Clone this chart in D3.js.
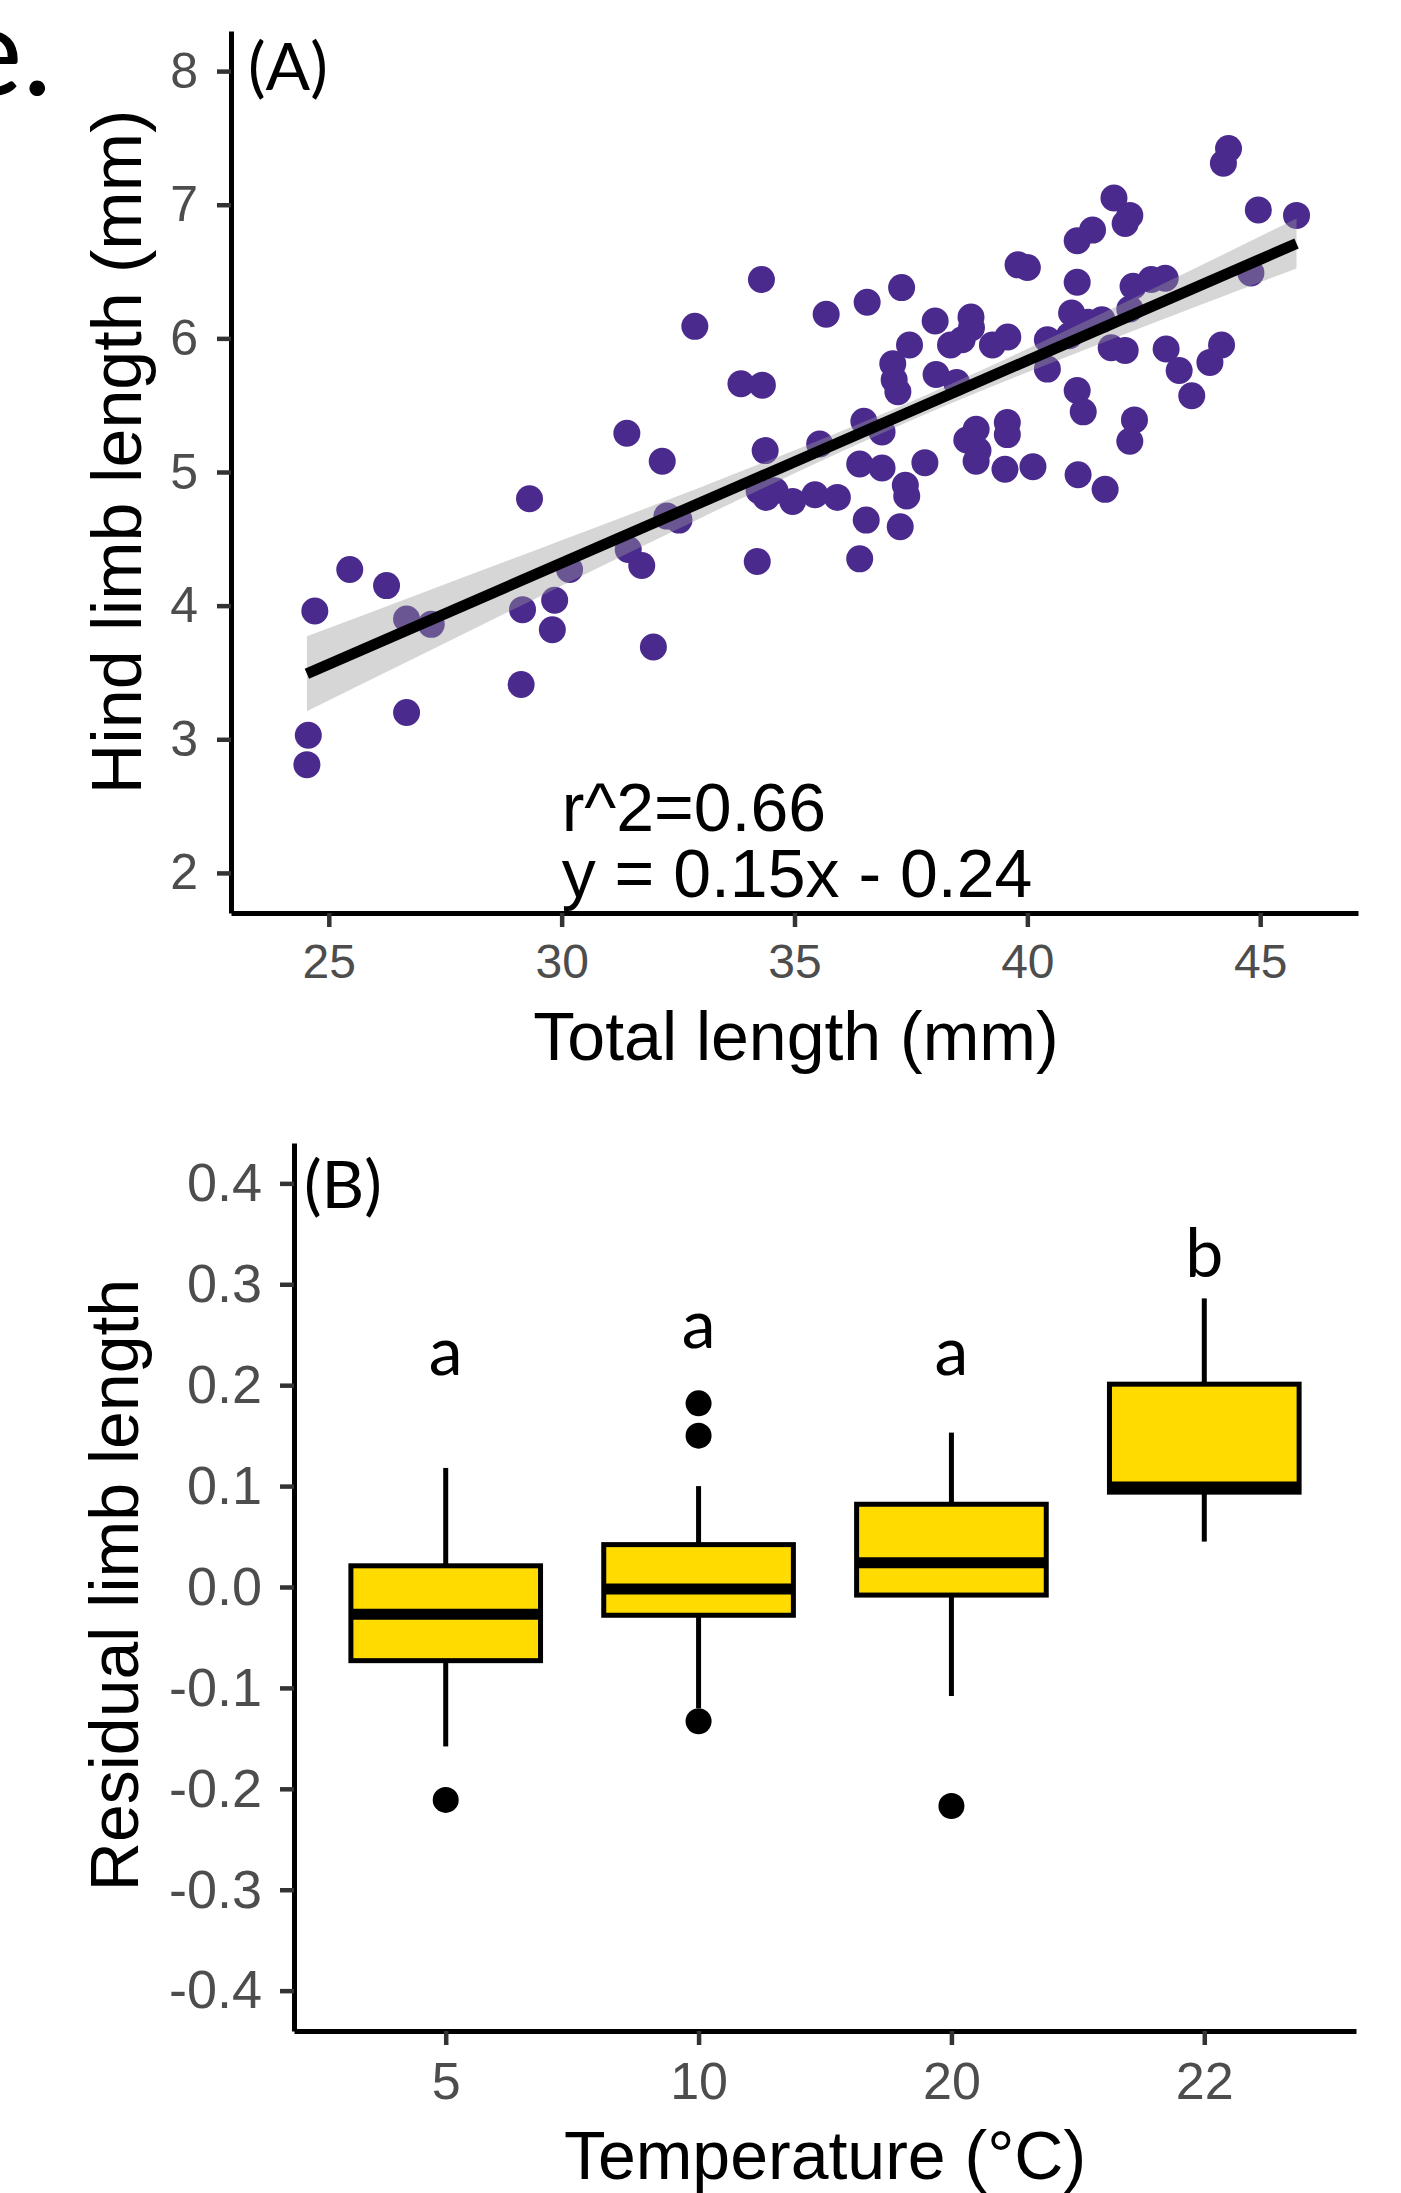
<!DOCTYPE html>
<html>
<head>
<meta charset="utf-8">
<script src="https://cdn.jsdelivr.net/npm/d3@7"></script>
<style>
  body { margin: 0; background: #fff; }
  text { font-family: "Liberation Sans", Arial, sans-serif; }
</style>
</head>
<body>
<svg id="chart" width="1401" height="2193"></svg>
<script>
// ---- panel A: hind limb vs total length ----
const totalLength = [24.53,24.56,24.70,25.45,26.24,26.67,26.67,27.20,29.13,29.16,
  29.31,29.80,29.85,30.17,31.40,31.43,31.72,31.97,32.16,32.26,
  32.52,32.86,33.85,34.31,34.29,34.20,34.37,34.24,34.39,34.58,
  34.96,35.44,35.92,35.54,35.68,36.40,36.88,36.54,36.40,36.49,
  36.88,36.56,37.30,37.27,37.38,37.41,37.80,37.11,37.14,37.22,
  37.47,38.02,38.04,38.48,38.35,38.60,38.79,38.80,39.25,39.58,
  38.70,38.90,38.94,38.90,39.57,39.57,39.52,39.80,40.00,40.12,
  40.43,40.43,40.90,40.95,41.11,41.07,41.07,41.40,41.09,41.07,
  41.20,41.30,41.60,41.67,41.80,42.10,41.86,42.10,42.20,42.20,
  42.27,42.66,42.96,42.30,42.20,42.98,43.26,43.53,43.92,44.17,
  44.21,44.32,44.80,44.96,45.78];
const hindLimb = [2.81,3.03,3.96,4.27,4.15,3.90,3.20,3.86,3.41,3.97,
  4.80,3.82,4.04,4.27,5.29,4.42,4.30,3.69,5.08,4.67,
  4.64,6.09,5.66,5.65,6.44,4.33,5.16,4.86,4.81,4.86,
  4.78,4.83,4.81,5.21,6.18,5.06,5.03,4.64,4.35,5.38,
  5.30,6.27,6.38,4.59,4.90,4.82,5.07,5.81,5.69,5.60,
  5.95,6.13,5.73,5.67,5.95,5.99,6.16,6.08,5.95,6.01,
  5.24,5.32,5.16,5.08,5.37,5.28,5.02,6.55,6.53,5.04,
  5.99,5.77,6.02,6.19,6.12,6.42,6.73,6.81,4.98,5.61,
  5.45,6.12,6.14,4.87,5.93,5.91,7.05,6.86,6.92,6.22,
  6.39,6.44,6.45,5.39,5.23,5.92,5.76,5.57,5.82,5.95,
  7.31,7.42,6.49,6.96,6.92];

// fitted line ends and half width of the grey band
const fitX = [24.53, 45.78];
const fitY = [3.49, 6.71];
const bandX = [24.53, 27, 30, 33, 36, 37.5, 39, 42, 45.78];
const bandHalf = [0.28, 0.23, 0.17, 0.115, 0.077, 0.07, 0.077, 0.117, 0.187];

const xTicksA = [25, 30, 35, 40, 45];
const yTicksA = [2, 3, 4, 5, 6, 7, 8];

// ---- panel B: residual limb length by temperature ----
const temps = ["5", "10", "20", "22"];
const whiskLo = [-0.158, -0.120, -0.108, 0.045];
const q1 = [-0.073, -0.028, -0.008, 0.094];
const med = [-0.027, -0.002, 0.024, 0.099];
const q3 = [0.021, 0.042, 0.082, 0.201];
const whiskHi = [0.118, 0.100, 0.153, 0.286];
const outT = ["5", "10", "10", "10", "20"];
const outV = [-0.211, 0.182, 0.150, -0.133, -0.217];
const groupLetters = ["a", "a", "a", "b"];
const letterY = [0.21, 0.237, 0.21, 0.307];

const yTicksB = [-0.4, -0.3, -0.2, -0.1, 0.0, 0.1, 0.2, 0.3, 0.4];

const svg = d3.select("#chart");
const purple = "#4b2a8e";

// caption fragment cut at the left edge
svg.append("text").attr("x", 52).attr("y", 95)
  .attr("text-anchor", "end")
  .style("font-family", "Lato, 'Open Sans', sans-serif")
  .style("font-size", "125px").text("e.");

// ================= panel A =================
const xA = d3.scaleLinear().domain([22.9, 47.1]).range([231, 1358]);
const yA = d3.scaleLinear().domain([1.7, 8.3]).range([913, 31]);
const gA = svg.append("g");

gA.selectAll("circle.pt").data(totalLength).join("circle")
  .attr("class", "pt")
  .attr("cx", d => xA(d))
  .attr("cy", (d, i) => yA(hindLimb[i]))
  .attr("r", 13.5)
  .attr("fill", purple);

const fit = d3.scaleLinear().domain(fitX).range(fitY);
const band = bandX.map((x, i) => ({x: x, lo: fit(x) - bandHalf[i], hi: fit(x) + bandHalf[i]}));

gA.append("path").datum(band)
  .attr("d", d3.area().curve(d3.curveMonotoneX)
    .x(d => xA(d.x)).y0(d => yA(d.lo)).y1(d => yA(d.hi)))
  .attr("fill", "#999999").attr("fill-opacity", 0.4);

gA.append("path").datum(fitX)
  .attr("d", d3.line().x(d => xA(d)).y(d => yA(fit(d))))
  .attr("stroke", "#000").attr("stroke-width", 11).attr("fill", "none");

function styleAxis(g, size) {
  g.select(".domain").attr("stroke", "#000").attr("stroke-width", 5);
  g.selectAll(".tick line").attr("stroke", "#333").attr("stroke-width", 4.5);
  g.selectAll(".tick text").attr("fill", "#4d4d4d")
    .style("font-family", "'Liberation Sans', Arial, sans-serif")
    .style("font-size", size + "px");
}

gA.append("g").attr("transform", "translate(0,913)")
  .call(d3.axisBottom(xA).tickValues(xTicksA).tickFormat(d3.format("d"))
    .tickSize(14).tickSizeOuter(0).tickPadding(17))
  .call(g => styleAxis(g, 48));

gA.append("g").attr("transform", "translate(231,0)")
  .call(d3.axisLeft(yA).tickValues(yTicksA).tickFormat(d3.format("d"))
    .tickSize(14).tickSizeOuter(0).tickPadding(19))
  .call(g => styleAxis(g, 50));

gA.append("text").attr("x", 796).attr("y", 1060).attr("text-anchor", "middle")
  .style("font-size", "68px").text("Total length (mm)");
gA.append("text").attr("transform", "translate(141,452) rotate(-90)")
  .attr("text-anchor", "middle").style("font-size", "70px").text("Hind limb length (mm)");

gA.append("text").attr("x", xA(30)).attr("y", 831).style("font-size", "68px").text("r^2=0.66");
gA.append("text").attr("x", xA(30)).attr("y", 897).style("font-size", "68px").text("y = 0.15x - 0.24");

gA.append("text").attr("x", 248).attr("y", 90)
  .style("font-family", "Lato, 'Open Sans', sans-serif").style("font-size", "66px").text("(A)");

// ================= panel B =================
const xB = d3.scalePoint().domain(temps).range([294, 1356]).padding(0.6);
const yB = d3.scaleLinear().domain([-0.44, 0.44]).range([2031, 1143]);
const boxW = xB.step() * 0.75;
const gB = svg.append("g");

const boxes = temps.map((t, i) => ({t: t, lo: whiskLo[i], q1: q1[i], med: med[i], q3: q3[i], hi: whiskHi[i]}));

gB.selectAll("line.whiskUp").data(boxes).join("line")
  .attr("x1", d => xB(d.t)).attr("x2", d => xB(d.t))
  .attr("y1", d => yB(d.q3)).attr("y2", d => yB(d.hi))
  .attr("stroke", "#000").attr("stroke-width", 5);
gB.selectAll("line.whiskDown").data(boxes).join("line")
  .attr("x1", d => xB(d.t)).attr("x2", d => xB(d.t))
  .attr("y1", d => yB(d.q1)).attr("y2", d => yB(d.lo))
  .attr("stroke", "#000").attr("stroke-width", 5);

gB.selectAll("rect.box").data(boxes).join("rect")
  .attr("x", d => xB(d.t) - boxW / 2)
  .attr("y", d => yB(d.q3))
  .attr("width", boxW)
  .attr("height", d => yB(d.q1) - yB(d.q3))
  .attr("fill", "#ffdb00").attr("stroke", "#000").attr("stroke-width", 5);

gB.selectAll("line.median").data(boxes).join("line")
  .attr("x1", d => xB(d.t) - boxW / 2).attr("x2", d => xB(d.t) + boxW / 2)
  .attr("y1", d => yB(d.med)).attr("y2", d => yB(d.med))
  .attr("stroke", "#000").attr("stroke-width", 11);

gB.selectAll("circle.out").data(outV).join("circle")
  .attr("cx", (d, i) => xB(outT[i]))
  .attr("cy", d => yB(d))
  .attr("r", 13).attr("fill", "#000");

gB.selectAll("text.letter").data(groupLetters).join("text")
  .attr("x", (d, i) => xB(temps[i]))
  .attr("y", (d, i) => yB(letterY[i]))
  .attr("text-anchor", "middle")
  .style("font-family", "Lato, 'Open Sans', sans-serif")
  .style("font-size", "68px")
  .text(d => d);

gB.append("g").attr("transform", "translate(0,2031)")
  .call(d3.axisBottom(xB).tickSize(14).tickSizeOuter(0).tickPadding(17))
  .call(g => styleAxis(g, 52));

gB.append("g").attr("transform", "translate(294,0)")
  .call(d3.axisLeft(yB).tickValues(yTicksB).tickFormat(d3.format(".1f"))
    .tickSize(14).tickSizeOuter(0).tickPadding(18))
  .call(g => styleAxis(g, 54));
gB.selectAll(".tick text").each(function() {
  const t = d3.select(this);
  t.text(t.text().replace("\u2212", "-"));
});

gB.append("text").attr("x", 825).attr("y", 2179).attr("text-anchor", "middle")
  .style("font-size", "68px").text("Temperature (\u00B0C)");
gB.append("text").attr("transform", "translate(138,1585) rotate(-90)")
  .attr("text-anchor", "middle").style("font-size", "68px").text("Residual limb length");

gB.append("text").attr("x", 304).attr("y", 1208)
  .style("font-family", "Lato, 'Open Sans', sans-serif").style("font-size", "66px").text("(B)");
</script>
</body>
</html>
